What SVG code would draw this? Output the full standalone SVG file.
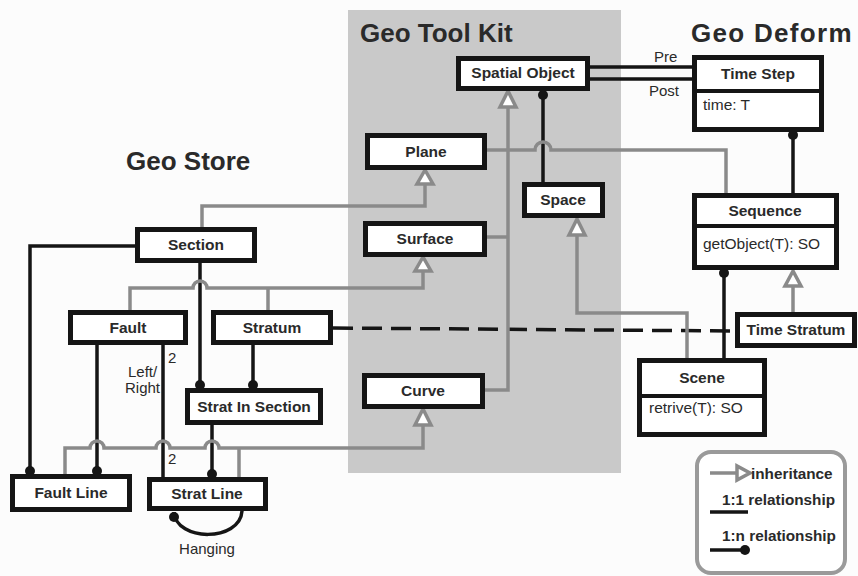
<svg xmlns="http://www.w3.org/2000/svg" width="858" height="576" viewBox="0 0 858 576">
<style>
  text { font-family: "Liberation Sans", Arial, sans-serif; fill: #2a2a2a; }
  .title { font-size: 26px; font-weight: bold; }
  .lbl { font-size: 15.5px; font-weight: bold; text-anchor: middle; }
  .attr { font-size: 15.5px; }
  .small { font-size: 15px; }
  .leg { font-size: 15.3px; font-weight: bold; }
  .box { fill: #ffffff; stroke: #151515; stroke-width: 5; }
  .div { stroke: #151515; stroke-width: 4; }
  .inh { fill: none; stroke: #8a8a8a; stroke-width: 3.5; }
  .tri { fill: #ffffff; stroke: #8a8a8a; stroke-width: 3.5; stroke-linejoin: miter; }
  .rel { fill: none; stroke: #151515; stroke-width: 3.5; }
  .dot { fill: #151515; }
</style>
<rect x="0" y="0" width="858" height="576" fill="#fcfcfc"/>
<rect x="348" y="10" width="273" height="463" fill="#c9c9c9"/>

<text class="title" x="360" y="42">Geo Tool Kit</text>
<text class="title" x="691" y="42" letter-spacing="1.3">Geo Deform</text>
<text class="title" x="126" y="170">Geo Store</text>

<g id="connectors">
  <!-- 1:1 and 1:n relations -->
  <path class="rel" d="M590 67 H692 M590 79 H692"/>
  <path class="rel" d="M543 91 V183"/><circle class="dot" cx="543" cy="95" r="5"/>
  <path class="rel" d="M793 132 V194"/><circle class="dot" cx="793" cy="135" r="5"/>
  <path class="rel" d="M724 270 V359"/><circle class="dot" cx="724" cy="273" r="5"/>
  <path class="rel" d="M333 328 L735 331" stroke-dasharray="20 9" stroke-width="4"/>
  <path class="rel" d="M135 246 H30 V475"/><circle class="dot" cx="30" cy="471" r="5"/>
  <path class="rel" d="M200 263 V389"/><circle class="dot" cx="200" cy="385" r="5"/>
  <path class="rel" d="M253 345 V389"/><circle class="dot" cx="253" cy="385" r="5"/>
  <path class="rel" d="M97 345 V475"/><circle class="dot" cx="97" cy="471" r="5"/>
  <path class="rel" d="M163 345 V478"/>
  <path class="rel" d="M212 425 V478"/><circle class="dot" cx="212" cy="474" r="5"/>
  <path class="rel" d="M174 512 C176 542, 240 542, 242 511"/><circle class="dot" cx="174" cy="517" r="5"/>

  <!-- inheritance -->
  <path class="inh" d="M508 107 V390 H485"/>
  <path class="inh" d="M487 237 H508"/>
  <path class="inh" d="M487 150 H535 A8 8 0 0 1 551 150 H726 V195"/>
  <polygon class="tri" points="508,91 500,107 516,107"/>
  <path class="inh" d="M425 184 V206 H202 V228"/>
  <polygon class="tri" points="425,170 417,184 433,184"/>
  <path class="inh" d="M423 271 V288 H207 A7 7 0 0 0 193 288 H130 V311"/>
  <path class="inh" d="M268 288 V311"/>
  <polygon class="tri" points="423,257 415,271 431,271"/>
  <path class="inh" d="M577 235 V313 H687 V359"/>
  <polygon class="tri" points="577,219 569,235 585,235"/>
  <path class="inh" d="M423 425 V448 H219 A7 7 0 0 0 205 448 H170 A7 7 0 0 0 156 448 H104 A7 7 0 0 0 90 448 H65 V476"/>
  <path class="inh" d="M239 448 V478"/>
  <polygon class="tri" points="423,409 415,425 431,425"/>
  <path class="inh" d="M793 286 V313"/>
  <polygon class="tri" points="793,271 785,286 801,286"/>

  <text class="small" x="654" y="62">Pre</text>
  <text class="small" x="649" y="96">Post</text>
  <text class="small" x="128" y="377">Left/</text>
  <text class="small" x="125" y="393">Right</text>
  <text class="small" x="168" y="363">2</text>
  <text class="small" x="168" y="464">2</text>
  <text class="small" x="207" y="554" text-anchor="middle">Hanging</text>
</g>

<g id="spatial-object"><rect class="box" x="458.5" y="58.5" width="129" height="30"/><text class="lbl" x="523" y="78">Spatial Object</text></g>
<g id="time-step"><rect class="box" x="694.5" y="57.5" width="127" height="72"/><line class="div" x1="694" y1="91" x2="822" y2="91"/><text class="lbl" x="758" y="79">Time Step</text><text class="attr" x="703" y="110">time: T</text></g>
<g id="plane"><rect class="box" x="367.5" y="135.5" width="117" height="32"/><text class="lbl" x="426" y="157">Plane</text></g>
<g id="surface"><rect class="box" x="365.5" y="223.5" width="119" height="31"/><text class="lbl" x="425" y="244">Surface</text></g>
<g id="space"><rect class="box" x="524.5" y="184.5" width="78" height="31"/><text class="lbl" x="563" y="205">Space</text></g>
<g id="curve"><rect class="box" x="364.5" y="375.5" width="118" height="31"/><text class="lbl" x="423" y="396">Curve</text></g>
<g id="section"><rect class="box" x="137.5" y="229.5" width="117" height="31"/><text class="lbl" x="196" y="250">Section</text></g>
<g id="fault"><rect class="box" x="70.5" y="312.5" width="115" height="30"/><text class="lbl" x="128" y="333">Fault</text></g>
<g id="stratum"><rect class="box" x="213.5" y="312.5" width="117" height="30"/><text class="lbl" x="272" y="333">Stratum</text></g>
<g id="strat-in-section"><rect class="box" x="187.5" y="390.5" width="133" height="32"/><text class="lbl" x="254" y="412">Strat In Section</text></g>
<g id="fault-line"><rect class="box" x="12.5" y="476.5" width="117" height="33"/><text class="lbl" x="71" y="498">Fault Line</text></g>
<g id="strat-line"><rect class="box" x="149.5" y="479.5" width="116" height="29"/><text class="lbl" x="207" y="499">Strat Line</text></g>
<g id="sequence"><rect class="box" x="694.5" y="195.5" width="142" height="72"/><line class="div" x1="694" y1="226" x2="837" y2="226"/><text class="lbl" x="765" y="216">Sequence</text><text class="attr" x="703" y="249">getObject(T): SO</text></g>
<g id="time-stratum"><rect class="box" x="737.5" y="314.5" width="117" height="31"/><text class="lbl" x="796" y="335">Time Stratum</text></g>
<g id="scene"><rect class="box" x="639.5" y="360.5" width="125" height="74"/><line class="div" x1="639" y1="396" x2="765" y2="396"/><text class="lbl" x="702" y="383">Scene</text><text class="attr" x="649" y="413">retrive(T): SO</text></g>

<g id="legend">
  <rect x="697" y="452" width="148" height="121" rx="14" fill="#ffffff" stroke="#9a9a9a" stroke-width="4"/>
  <path class="inh" d="M710 473 H737"/>
  <polygon class="tri" points="737,466 737,480 750,473"/>
  <text class="leg" x="751" y="479">inheritance</text>
  <text class="leg" x="722" y="505">1:1 relationship</text>
  <path class="rel" d="M710 512 H748"/>
  <text class="leg" x="722" y="541">1:n relationship</text>
  <path class="rel" d="M710 550 H745"/><circle class="dot" cx="745" cy="550" r="5"/>
</g>
</svg>
